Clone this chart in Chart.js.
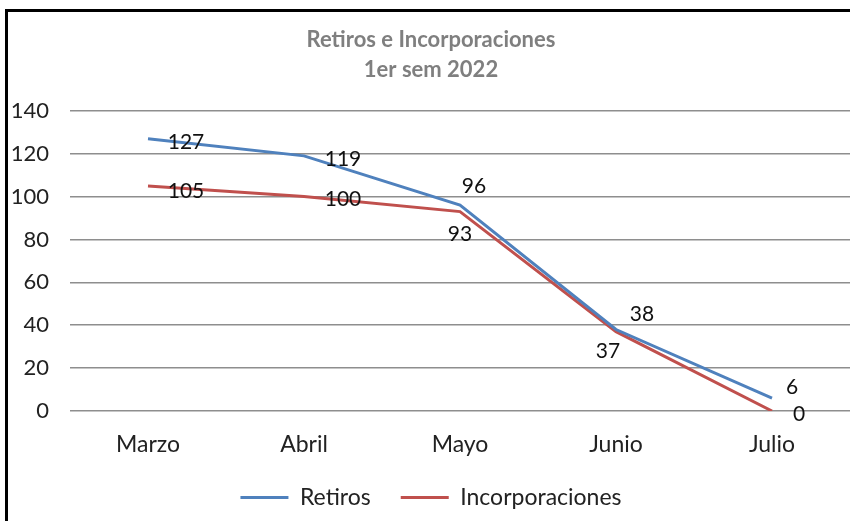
<!DOCTYPE html>
<html>
<head>
<meta charset="utf-8">
<script src="https://cdn.jsdelivr.net/npm/chart.js@4/dist/chart.umd.min.js"></script>
<style>
  body { margin: 0; background: #fff; }
  canvas { display: block; }
</style>
</head>
<body>
<canvas id="chart" width="850" height="521"></canvas>
<script>
const categories = ["Marzo", "Abril", "Mayo", "Junio", "Julio"];
const retiros = [127, 119, 96, 38, 6];
const incorporaciones = [105, 100, 93, 37, 0];
const seriesNames = ["Retiros", "Incorporaciones"];
const titleLines = ["Retiros e Incorporaciones", "1er sem 2022"];

// where each value label sits relative to its point (dx, dy)
const labelOffsets = [
   [[38, 4], [39, 3], [14, -19], [26, -15], [20, -11]],
   [[38, 5], [39, 3], [0, 23], [-8, 20], [27, 3]],
];

const FONT = "Lato, 'Open Sans', sans-serif";

// frame like the pasted excel chart
const framePlugin = {
   id: "frame",
   beforeDraw(chart) {
      const ctx = chart.ctx;
      ctx.save();
      ctx.fillStyle = "#fff";
      ctx.fillRect(0, 0, chart.width, chart.height);
      ctx.strokeStyle = "#000";
      ctx.lineWidth = 3;
      ctx.beginPath();
      ctx.moveTo(6.5, chart.height);
      ctx.lineTo(6.5, 10.5);
      ctx.lineTo(chart.width, 10.5);
      ctx.stroke();
      ctx.restore();
   },
};

// value labels next to the points
const valueLabels = {
   id: "valueLabels",
   afterDatasetsDraw(chart) {
      const ctx = chart.ctx;
      ctx.save();
      ctx.font = "21px " + FONT;
      ctx.fillStyle = "#111";
      ctx.textAlign = "center";
      ctx.textBaseline = "middle";
      chart.data.datasets.forEach((ds, d) => {
         const meta = chart.getDatasetMeta(d);
         meta.data.forEach((pt, i) => {
            const off = labelOffsets[d][i];
            ctx.fillText(String(ds.data[i]), pt.x + off[0], pt.y + off[1]);
         });
      });
      ctx.restore();
   },
};

// legend sits lower than chart.js would put it
const legendHeight = {
   id: "legendHeight",
   beforeInit(chart) {
      const fit = chart.legend.fit;
      chart.legend.fit = function () {
         fit.call(this);
         this.height = 60;
      };
   },
};

new Chart(document.getElementById("chart"), {
   type: "line",
   data: {
      labels: categories,
      datasets: [
         {
            label: seriesNames[0],
            data: retiros,
            borderColor: "#4f81bd",
            backgroundColor: "#4f81bd",
            borderWidth: 3,
            pointRadius: 0,
            tension: 0,
         },
         {
            label: seriesNames[1],
            data: incorporaciones,
            borderColor: "#c0504d",
            backgroundColor: "#c0504d",
            borderWidth: 3,
            pointRadius: 0,
            tension: 0,
         },
      ],
   },
   options: {
      responsive: false,
      animation: false,
      layout: { padding: { left: 12, right: 0, top: 0, bottom: 5 } },
      scales: {
         x: {
            offset: true,
            grid: { display: false, drawTicks: false },
            border: { display: false },
            ticks: { color: "#222", font: { family: FONT, size: 23 }, padding: 20, maxRotation: 0 },
            afterFit(scale) {
               scale.height = 45;
            },
         },
         y: {
            min: 0,
            max: 140,
            ticks: { stepSize: 20, color: "#222", font: { family: FONT, size: 22 }, padding: 21 },
            grid: { color: "#8e8e8e", lineWidth: 1.5, drawTicks: false },
            border: { display: false },
            afterFit(scale) {
               scale.width = 58;
            },
         },
      },
      plugins: {
         title: {
            display: true,
            text: titleLines,
            color: "#7f7f7f",
            font: { family: FONT, size: 22, weight: "bold", lineHeight: 1.36 },
            padding: { top: 25, bottom: 26 },
         },
         legend: {
            position: "bottom",
            labels: {
               usePointStyle: true,
               pointStyle: "line",
               pointStyleWidth: 48,
               boxWidth: 48,
               padding: 30,
               color: "#222",
               font: { family: FONT, size: 23 },
            },
         },
         tooltip: { enabled: false },
      },
   },
   plugins: [framePlugin, valueLabels, legendHeight],
});
</script>
</body>
</html>
